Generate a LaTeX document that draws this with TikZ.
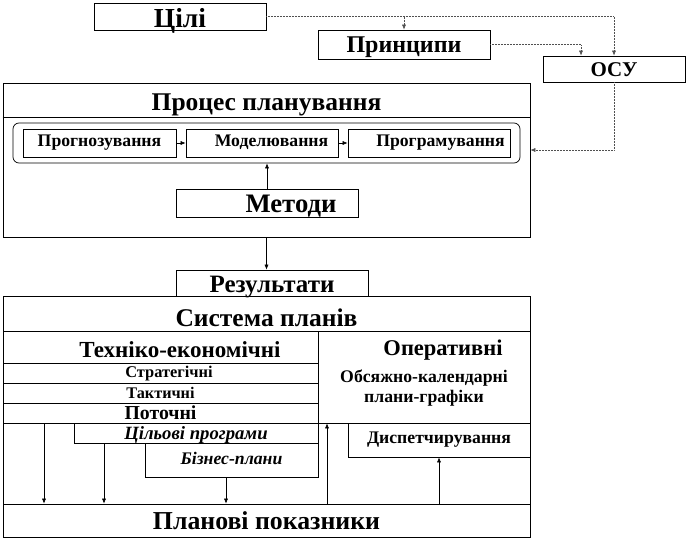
\documentclass[tikz,border=0pt]{standalone}
\usepackage{fontspec}
\setmainfont{Liberation Serif}
\usepackage{tikz}
\usepackage{xcolor}
\usetikzlibrary{arrows.meta,positioning,calc}
\definecolor{LineGray}{HTML}{505050}
\tikzset{
  box/.style={draw, line width=0.7pt, inner sep=0pt, align=center, font=\bfseries},
  frame/.style={draw, line width=0.7pt, inner sep=0pt},
  title/.style={inner sep=0pt, font=\bfseries},
  conn/.style={-{Latex[length=5pt,width=4pt]}, line width=0.5pt},
  dotconn/.style={conn, densely dotted, draw=LineGray}
}
\newcommand{\bigtxt}{\fontsize{25.5}{27}\selectfont}
\newcommand{\midtxt}{\fontsize{22.5}{24}\selectfont}
\newcommand{\smalltxt}{\fontsize{17.7}{19}\selectfont}
\newcommand{\lowered}[2]{\raisebox{-#1pt}[\height][\depth]{#2}}

\begin{document}
\begin{tikzpicture}[x=1pt, y=-1pt]
    \useasboundingbox (0,0) rectangle (689,541);
    % top: goals, principles, ACS
    \node[box, minimum width=172, minimum height=27] (goals) at (180,16.5) {\fontsize{27.5}{29}\selectfont\lowered{4}{Цілі}};
    \node[box, minimum width=172, minimum height=29] (princ) at (404,44.5) {\fontsize{24}{26}\selectfont\lowered{3}{Принципи}};
    \node[box, minimum width=142, minimum height=26] (osu) at (614,69) {\fontsize{21}{23}\selectfont\lowered{1}{ОСУ}};

    % planning process
    \node[frame, minimum width=527, minimum height=154] (plan) at (266.5,160) {};
    \node[title] (plantitle) at (266.5,105) {\bigtxt Процес планування};
    \draw[line width=0.7pt] (plan.west |- 0,117) -- (plan.east |- 0,117);
    \node[frame, rounded corners=6pt, minimum width=507, minimum height=40] (stages) at (266.5,143) {};
    \node[box, minimum width=153, minimum height=28] (forecast) at (99.5,143) {\smalltxt\strut Прогнозування};
    \node[box, minimum width=152, minimum height=28] (model) at (262,143) {\smalltxt\strut\hspace*{19pt}Моделювання};
    \node[box, minimum width=162, minimum height=28] (program) at (429,143) {\smalltxt\strut\hspace*{23pt}Програмування};
    \node[box, minimum width=182, minimum height=28] (methods) at (267,203) {\fontsize{26.7}{28}\selectfont\hspace*{48pt}\lowered{3}{Методи}};

    % results and system of plans
    \node[box, minimum width=192, minimum height=26] (results) at (272,283) {\fontsize{25}{27}\selectfont\lowered{4}{Результати}};
    \node[frame, minimum width=527, minimum height=241] (system) at (266.5,416.5) {};
    \node[title] (systitle) at (266.5,318) {\bigtxt Система планів};
    \node[box, minimum width=315, minimum height=32] (tech) at (160.5,347) {\fontsize{23}{25}\selectfont\hspace*{39pt}\lowered{3}{Техніко-економічні}};
    \node[frame, minimum width=212, minimum height=92] (oper) at (424,377) {};
    \node[title] (opertitle) at (443,350) {\midtxt Оперативні};
    \node[title, align=center] (calendar) at (424,388) {\smalltxt Обсяжно-календарні\\[3pt]\smalltxt плани-графіки};
    \node[box, minimum width=315, minimum height=20] (strat) at (160.5,373) {\fontsize{16.4}{18}\selectfont\hspace*{17pt}\lowered{1}{Стратегічні}};
    \node[box, minimum width=315, minimum height=20] (tact) at (160.5,393) {\fontsize{16.2}{18}\selectfont Тактичні};
    \node[box, minimum width=315, minimum height=20] (curr) at (160.5,413) {\fontsize{19.8}{21}\selectfont Поточні};
    \node[box, minimum width=244, minimum height=20] (target) at (196,433) {\fontsize{18.7}{20}\selectfont\itshape\lowered{2}{Цільові програми}};
    \node[box, minimum width=173, minimum height=34] (business) at (231.5,460) {\smalltxt\itshape\lowered{-2}{Бізнес-плани}};
    \node[box, minimum width=182, minimum height=34] (dispatch) at (439,440) {\smalltxt Диспетчирування};
    \node[box, minimum width=527, minimum height=33] (indic) at (266.5,520.5) {\fontsize{25.8}{27}\selectfont Планові показники};

    % dotted links
    \draw[dotconn] (goals.east) -| (osu.north);
    \draw[dotconn] (goals.east -| princ.north) -- (princ.north);
    \draw[dotconn] (princ.east) -| ([xshift=-33]osu.north);
    \draw[dotconn] (osu.south) |- (plan.east |- 0,150);

    % solid links
    \draw[conn] (forecast) -- (model);
    \draw[conn] (model) -- (program);
    \draw[conn] (methods.north) -- (methods.north |- stages.south);
    \draw[conn] (plan.south) -- (plan.south |- results.north);
    \draw[conn] ([xshift=-116.5]curr.south) -- ([xshift=-116.5]curr.south |- indic.north);
    \draw[conn] ([xshift=-92]target.south) -- ([xshift=-92]target.south |- indic.north);
    \draw[conn] ([xshift=-5.5]business.south) -- ([xshift=-5.5]business.south |- indic.north);
    \draw[conn] ([xshift=-97]oper.south |- indic.north) -- ([xshift=-97]oper.south);
    \draw[conn] (dispatch.south |- indic.north) -- (dispatch.south);
  \end{tikzpicture}
\end{document}
